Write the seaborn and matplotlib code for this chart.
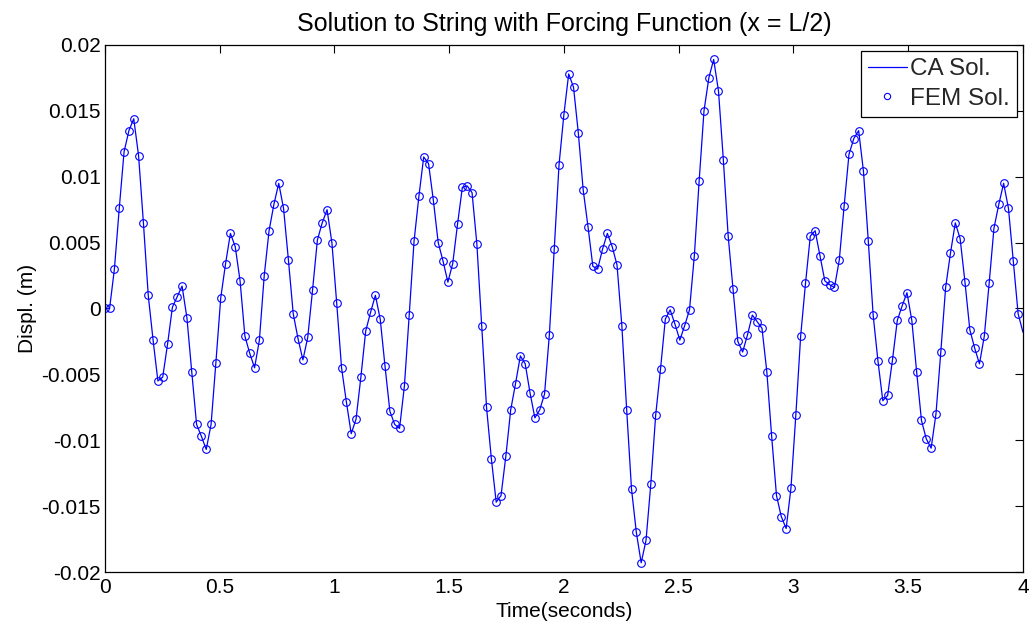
import numpy as np
import matplotlib
matplotlib.use("Agg")
import matplotlib.pyplot as plt
import seaborn as sns
from matplotlib.ticker import FixedLocator, FixedFormatter

# FEM solution samples (displacement, m), uniform time grid from 0 to ~4 s
fem_disp = [
    0.0, 0.0, 0.0030, 0.0076, 0.0119, 0.0135, 0.0144, 0.0116, 0.0065, 0.0010,
    -0.0024, -0.0055, -0.0052, -0.0027, 0.0001, 0.0009, 0.0017, -0.0007, -0.0048, -0.0088,
    -0.0097, -0.0107, -0.0088, -0.0041, 0.0008, 0.0034, 0.0057, 0.0047, 0.0021, -0.0021,
    -0.0034, -0.0045, -0.0024, 0.0025, 0.0059, 0.0079, 0.0095, 0.0076, 0.0037, -0.0004,
    -0.0023, -0.0039, -0.0022, 0.0014, 0.0052, 0.0065, 0.0075, 0.0050, 0.0004, -0.0045,
    -0.0071, -0.0095, -0.0084, -0.0052, -0.0017, -0.0003, 0.0010, -0.0008, -0.0044, -0.0078,
    -0.0088, -0.0091, -0.0059, -0.0005, 0.0051, 0.0085, 0.0115, 0.0110, 0.0082, 0.0050,
    0.0036, 0.0020, 0.0034, 0.0064, 0.0092, 0.0093, 0.0088, 0.0049, -0.0013, -0.0075,
    -0.0114, -0.0147, -0.0142, -0.0112, -0.0077, -0.0057, -0.0036, -0.0042, -0.0064, -0.0083,
    -0.0077, -0.0065, -0.0020, 0.0045, 0.0109, 0.0147, 0.0178, 0.0168, 0.0133, 0.0090,
    0.0062, 0.0032, 0.0030, 0.0045, 0.0057, 0.0047, 0.0033, -0.0013, -0.0077, -0.0137,
    -0.0170, -0.0193, -0.0176, -0.0133, -0.0081, -0.0046, -0.0008, -0.0001, -0.0012, -0.0024,
    -0.0013, -0.0001, 0.0040, 0.0097, 0.0150, 0.0175, 0.0189, 0.0165, 0.0113, 0.0055,
    0.0015, -0.0025, -0.0033, -0.0020, -0.0005, -0.0010, -0.0015, -0.0048, -0.0097, -0.0142,
    -0.0158, -0.0167, -0.0136, -0.0081, -0.0021, 0.0019, 0.0055, 0.0059, 0.0040, 0.0021,
    0.0018, 0.0016, 0.0037, 0.0078, 0.0117, 0.0129, 0.0135, 0.0104, 0.0051, -0.0005,
    -0.0040, -0.0070, -0.0066, -0.0039, -0.0009, 0.0002, 0.0012, -0.0009, -0.0048, -0.0085,
    -0.0099, -0.0106, -0.0080, -0.0033, 0.0016, 0.0042, 0.0065, 0.0053, 0.0020, -0.0016,
    -0.0030, -0.0042, -0.0021, 0.0019, 0.0061, 0.0079, 0.0095, 0.0076, 0.0036, -0.0004,
]
fem_dt = 4.0 / 190
fem_time = [k * fem_dt for k in range(len(fem_disp))]

# CA solution: passes through the same samples and continues to the end of the window
ca_time = fem_time + [4.0]
ca_disp = fem_disp + [-0.0018]

x_ticks = [0, 0.5, 1, 1.5, 2, 2.5, 3, 3.5, 4]
x_tick_labels = ["0", "0.5", "1", "1.5", "2", "2.5", "3", "3.5", "4"]
y_ticks = [-0.02, -0.015, -0.01, -0.005, 0, 0.005, 0.01, 0.015, 0.02]
y_tick_labels = ["-0.02", "-0.015", "-0.01", "-0.005", "0", "0.005", "0.01", "0.015", "0.02"]

sns.set_theme(style="white")
plt.rcParams["font.family"] = ["Liberation Sans", "DejaVu Sans"]

fig = plt.figure(figsize=(10.31, 6.29), dpi=100)
ax = fig.add_axes([0.1016, 0.0906, 0.8906, 0.8379])

sns.lineplot(x=ca_time, y=ca_disp, ax=ax, color="#0000ff", linewidth=0.9,
             label="CA Sol.", sort=False, estimator=None)
sns.lineplot(x=fem_time, y=fem_disp, ax=ax, color="#0000ff", linestyle="none",
             marker="o", markersize=5.5, markerfacecolor="none",
             markeredgecolor="#0000ff", markeredgewidth=0.8,
             label="FEM Sol.", sort=False, estimator=None)

ax.set_xlim(0, 4)
ax.set_ylim(-0.02, 0.02)
ax.xaxis.set_major_locator(FixedLocator(x_ticks))
ax.xaxis.set_major_formatter(FixedFormatter(x_tick_labels))
ax.yaxis.set_major_locator(FixedLocator(y_ticks))
ax.yaxis.set_major_formatter(FixedFormatter(y_tick_labels))

ax.tick_params(axis="both", which="major", direction="in", length=6, width=0.8,
               top=True, right=True, labelsize=15, colors="black", pad=3)
ax.tick_params(axis="x", pad=4)
for sp in ax.spines.values():
    sp.set_visible(True)
    sp.set_color("black")
    sp.set_linewidth(0.9)

ax.set_xlabel("Time(seconds)", fontsize=15, color="black", labelpad=4)
ax.set_ylabel("Displ. (m)", fontsize=15, color="black", labelpad=3)
ax.set_title("Solution to String with Forcing Function (x = L/2)", fontsize=18,
             color="black", pad=10)

leg = ax.legend(loc="upper right", fontsize=17.5, frameon=True, fancybox=False,
                edgecolor="black", framealpha=1, borderpad=0.3, labelspacing=0.3,
                handlelength=1.6, handletextpad=0.12, borderaxespad=0.25, numpoints=1)
leg.get_frame().set_linewidth(0.9)
for h in leg.legend_handles:
    try:
        h.set_markersize(4.5)
    except Exception:
        pass

fig.savefig("out.png", dpi=100, facecolor="white")
